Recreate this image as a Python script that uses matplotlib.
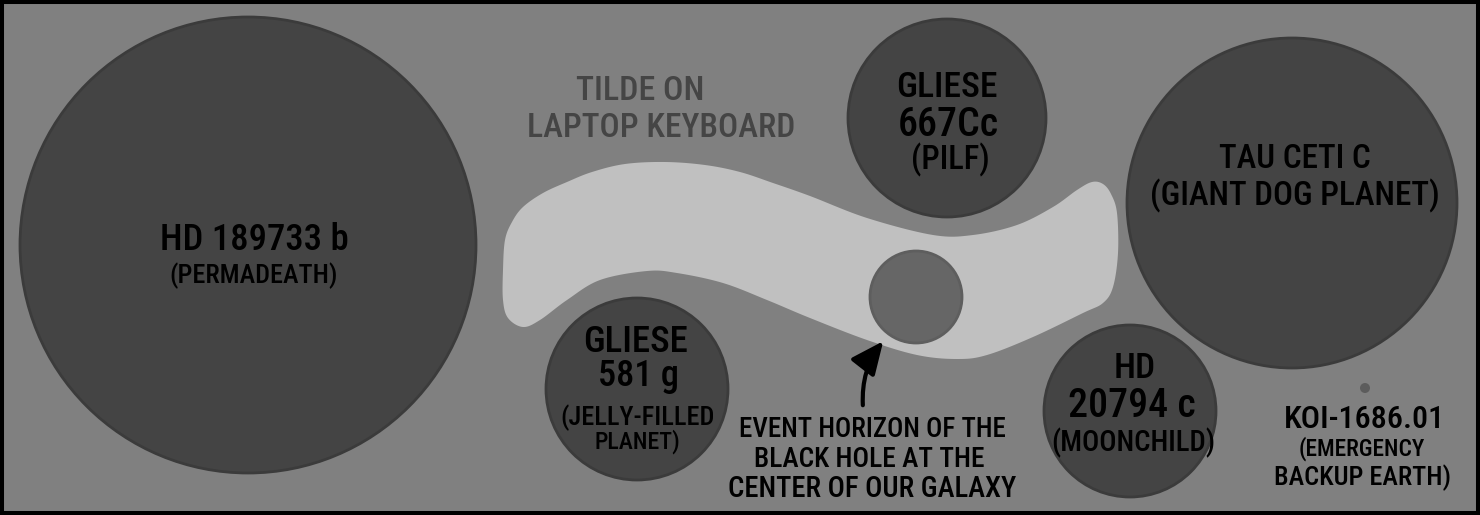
import os

import numpy as np
import matplotlib
matplotlib.use("Agg")
import matplotlib.pyplot as plt
from matplotlib import font_manager
from matplotlib.font_manager import FontProperties
from matplotlib.textpath import TextPath
from matplotlib.patches import Circle, Rectangle, Polygon, FancyArrowPatch

# planets, in canvas pixels (x right, y down); radius = drawn size
planet_ids = ["HD 189733 b", "GLIESE\n667Cc", "TAU CETI C", "GLIESE\n581 g", "HD\n20794 c", "KOI-1686.01"]
planet_nicknames = ["(PERMADEATH)", "(PILF)", "(GIANT DOG PLANET)", "(JELLY-FILLED\nPLANET)",
                    "(MOONCHILD)", "(EMERGENCY\nBACKUP EARTH)"]
planet_x = [248, 947, 1292, 637, 1130, 1365]
planet_y = [245, 118, 203, 389, 411, 388]
planet_r = [228, 99, 165, 91, 86, 5]

# black hole event horizon
hole_x, hole_y, hole_r = 916, 297, 46
hole_label = ["EVENT HORIZON OF THE", "BLACK HOLE AT THE", "CENTER OF OUR GALAXY"]

# tilde on a laptop keyboard, outline
tilde_label = ["TILDE ON", "LAPTOP KEYBOARD"]
tilde_x = [503, 505, 512, 523, 543, 567, 592, 625, 665, 705, 740, 773, 810, 867, 933, 973,
           1017, 1053, 1077, 1092, 1103, 1111, 1117, 1118, 1113, 1103, 1083, 1033, 987, 957,
           917, 867, 810, 767, 723, 677, 647, 600, 567, 540, 523, 508, 503]
tilde_y = [270, 240, 222, 207, 193, 182, 172, 164, 162, 165, 172, 183, 196, 218, 235, 235,
           225, 207, 190, 182, 184, 194, 213, 253, 287, 303, 313, 337, 355, 359,
           355, 340, 318, 300, 283, 273, 271, 280, 300, 320, 327, 318, 300]

W, H = 1480, 515
BG = "#808080"
PLANET = "#444444"
PLANET_EDGE = "#3b3b3b"
TILDE = "#c0c0c0"
HOLE = "#666666"


def pick_font():
    # a narrow sans is the closest thing to the hand lettering
    files = [f.fname for f in font_manager.fontManager.ttflist]
    for exact in ["robotocondensed-medium.ttf", "robotocondensed-regular.ttf"]:
        for f in files:
            if os.path.basename(f).lower() == exact:
                return FontProperties(fname=f)
    keys = ["robotocondensed", "liberationsansnarrow", "dejavusanscondensed", "notosans-condensed",
            "opensans-condensed", "opensans_condensed"]
    bad = ["bold", "italic", "oblique", "light", "thin", "black", "medium", "semi", "extra"]
    for k in keys:
        for f in files:
            b = os.path.basename(f).lower()
            if b.startswith(k) and not any(w in b for w in bad):
                return FontProperties(fname=f)
    return FontProperties(family="DejaVu Sans")


FP = pick_font()
CAP = TextPath((0, 0), "H", prop=FP, size=100).get_extents().height / 100


def fitted_size(s, target_w, target_cap):
    ink_w = TextPath((0, 0), s, prop=FP, size=100).get_extents().width / 100
    em_h = target_cap / CAP
    em = np.clip(target_w / ink_w, 0.85 * em_h, 1.05 * em_h)
    return em * 72 / 100


def smooth_closed(xs, ys, n=12):
    # catmull-rom through the outline points, closed
    p = np.column_stack([xs, ys]).astype(float)
    out = []
    m = len(p)
    for i in range(m):
        p0, p1, p2, p3 = p[i - 1], p[i], p[(i + 1) % m], p[(i + 2) % m]
        for t in np.linspace(0, 1, n, endpoint=False):
            t2, t3 = t * t, t * t * t
            out.append(0.5 * (2 * p1 + (-p0 + p2) * t + (2 * p0 - 5 * p1 + 4 * p2 - p3) * t2
                              + (-p0 + 3 * p1 - 3 * p2 + p3) * t3))
    return np.array(out)


fig = plt.figure(figsize=(W / 100, H / 100), dpi=100)
fig.patch.set_facecolor("white")
ax = fig.add_axes([0, 0, 1, 1])
ax.set_xlim(0, W)
ax.set_ylim(H, 0)
ax.axis("off")

ax.add_patch(Rectangle((2, 2), W - 4, H - 4, facecolor=BG, edgecolor="black", lw=2.9, zorder=0))

ax.add_patch(Polygon(smooth_closed(tilde_x, tilde_y), closed=True, facecolor=TILDE,
                     edgecolor="none", zorder=1))

for x, y, r in zip(planet_x, planet_y, planet_r):
    if r < 10:
        ax.add_patch(Circle((x, y), r, facecolor="#5c5c5c", edgecolor="none", zorder=2))
    else:
        ax.add_patch(Circle((x, y), r, facecolor=PLANET, edgecolor=PLANET_EDGE, lw=2, zorder=2))

ax.add_patch(Circle((hole_x, hole_y), hole_r, facecolor=HOLE, edgecolor="#5e5e5e", lw=2, zorder=3))

ax.add_patch(FancyArrowPatch((863, 408), (885, 339), connectionstyle="arc3,rad=-0.2",
                             arrowstyle="-|>,head_length=1.0,head_width=0.45", mutation_scale=20,
                             lw=3, color="black", zorder=4))


def label(s, x, y, w, cap, color="black"):
    ax.text(x, y, s, ha="center", va="baseline", fontproperties=FP,
            fontsize=fitted_size(s, w, cap), color=color, zorder=5)


# label lines: (x centre, baseline, ink width, cap height) in pixels
id_lines = [
    [(254, 250, 185, 27)],
    [(947, 97, 100, 24), (948, 136, 100, 27)],
    [(1295, 168, 150, 25)],
    [(636, 352, 102, 27), (638, 386, 77, 28)],
    [(1135, 378, 44, 24), (1132, 417, 125, 27)],
    [(1365, 428, 154, 26)],
]
nick_lines = [
    [(254, 283, 165, 20)],
    [(950, 169, 75, 23)],
    [(1295, 205, 286, 24)],
    [(638, 425, 133, 22), (637, 449, 83, 20)],
    [(1133, 451, 143, 24)],
    [(1362, 456, 125, 19), (1363, 485, 147, 22)],
]

for pid, nick, ids, nicks in zip(planet_ids, planet_nicknames, id_lines, nick_lines):
    for s, pos in zip(pid.split("\n"), ids):
        label(s, *pos)
    for s, pos in zip(nick.split("\n"), nicks):
        label(s, *pos)

for s, pos in zip(tilde_label, [(640, 100, 125, 27), (661, 137, 253, 28)]):
    label(s, *pos, color="#454545")

for s, pos in zip(hole_label, [(872, 437, 265, 20), (869, 467, 228, 20), (872, 497, 287, 20)]):
    label(s, *pos)

fig.savefig("out.png", dpi=100)
